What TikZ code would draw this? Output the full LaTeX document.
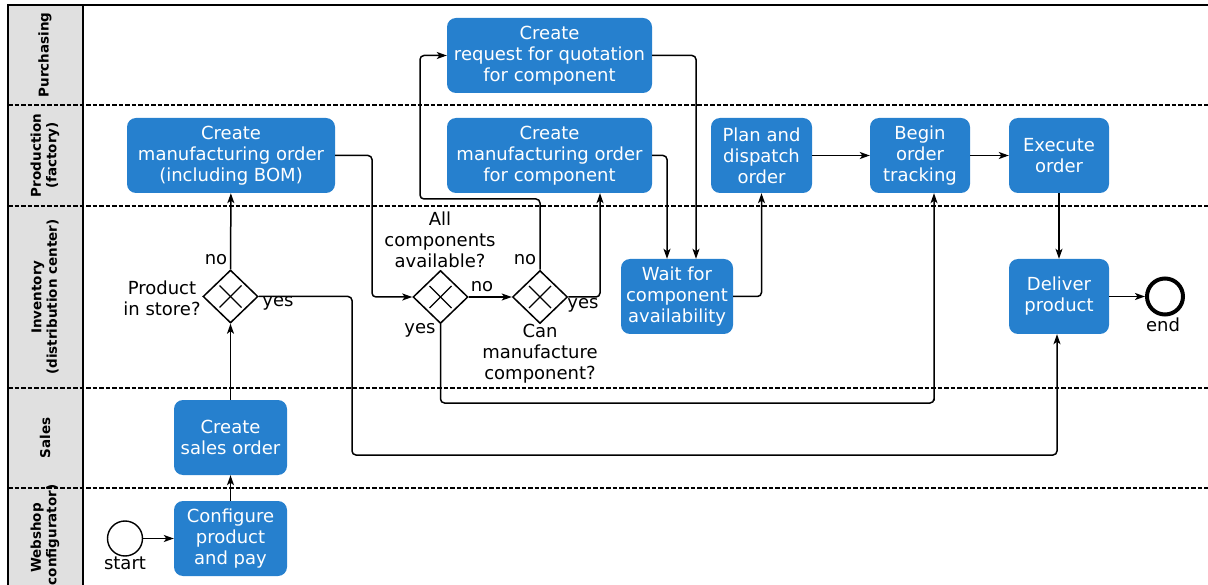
\documentclass[tikz,border=0pt]{standalone}
\usepackage{fontspec}
\setmainfont{DejaVu Sans}
\usetikzlibrary{shapes.geometric,arrows.meta,calc}
\definecolor{taskblue}{RGB}{38,128,206}
\definecolor{lanegray}{RGB}{224,224,224}
\newcommand{\tasksize}{\fontsize{18}{21}\selectfont}
\newcommand{\lanesize}{\fontsize{13.5}{15.5}\selectfont\bfseries}
\tikzset{
  task/.style={rectangle, rounded corners=9pt, fill=taskblue, text=white, align=center,
    inner sep=0pt, font=\tasksize, minimum height=75pt},
  gw/.style={diamond, draw, line width=1.5pt, minimum width=55pt, minimum height=53pt,
    inner sep=0pt, path picture={
      \draw[line width=1.3pt] ([shift={(-11pt,-11pt)}]path picture bounding box.center) -- ([shift={(11pt,11pt)}]path picture bounding box.center);
      \draw[line width=1.3pt] ([shift={(-11pt,11pt)}]path picture bounding box.center) -- ([shift={(11pt,-11pt)}]path picture bounding box.center);}},
  flow/.style={line width=1.5pt, rounded corners=4pt, -{Stealth[length=10pt,width=7pt,inset=2.5pt]}},
  lbl/.style={font=\tasksize, align=center, inner sep=0pt},
  lanelbl/.style={rotate=90, font=\lanesize, align=center, inner sep=0pt},
  sep/.style={line width=1.2pt, dash pattern=on 4.5pt off 2pt},
}
\begin{document}
\begin{tikzpicture}[x=1pt,y=-1pt]
\useasboundingbox (0,0) rectangle (1208,585);
\clip (0,0) rectangle (1208,585);
% lanes
\fill[lanegray] (8,5.5) rectangle (83,600);
\draw[sep] (8,105) -- (1210,105);
\draw[sep] (8,206) -- (1210,206);
\draw[sep] (8,388) -- (1210,388);
\draw[sep] (8,488) -- (1210,488);
\draw[line width=2pt] (8,600) -- (8,5.5) -- (1210,5.5);
\draw[line width=1.6pt] (83,5.5) -- (83,600);
\node[lanelbl] (lPur) at (45,55) {Purchasing};
\node[lanelbl] (lPro) at (45,155.5) {Production\\(factory)};
\node[lanelbl] (lInv) at (45,297) {Inventory\\(distribution center)};
\node[lanelbl] (lSal) at (45,438) {Sales};
\node[lanelbl] (lWeb) at (45,538) {Webshop\\(configurator)};
% tasks
\node[task, minimum width=208pt] (mo) at (231,155.5) {Create\\manufacturing order\\(including BOM)};
\node[task, minimum width=205pt] (quote) at (549.5,55.5) {Create\\request for quotation\\for component};
\node[task, minimum width=205pt] (moc) at (549.5,155.5) {Create\\manufacturing order\\for component};
\node[task, minimum width=101pt] (plan) at (761.5,155.5) {Plan and\\dispatch\\order};
\node[task, minimum width=100pt] (begin) at (920,155.5) {Begin\\order\\tracking};
\node[task, minimum width=100pt] (exec) at (1059,155.5) {Execute\\order};
\node[task, minimum width=112pt] (wait) at (677,296.5) {Wait for\\component\\availability};
\node[task, minimum width=100pt] (deliver) at (1059,296.5) {Deliver\\product};
\node[task, minimum width=113pt] (sales) at (230.5,437.5) {Create\\sales order};
\node[task, minimum width=113pt] (config) at (230.5,538.5) {Configure\\product\\and pay};
% gateways
\node[gw] (gwProd) at (230.5,296.5) {};
\node[gw] (gwAll) at (440.5,297) {};
\node[gw] (gwCan) at (540,297) {};
% events
\node[circle, draw, line width=1.4pt, minimum size=35pt, inner sep=0pt] (start) at (125,538.5) {};
\node[circle, draw, line width=4pt, minimum size=36pt, inner sep=0pt] (endev) at (1165,296.5) {};
% labels
\node[lbl] (tStart) at (125,563) {start};
\node[lbl] (tEnd) at (1163,325) {end};
\node[lbl] (tProd) at (162,298) {Product\\in store?};
\node[lbl] (tAll) at (440,240) {All\\components\\available?};
\node[lbl] (tCan) at (540,354) {Can\\manufacture\\component?};
\node[lbl] (n1) at (216,260) {no};
\node[lbl] (y1) at (278,303) {yes};
\node[lbl] (n2) at (482,287) {no};
\node[lbl] (y2) at (420,330) {yes};
\node[lbl] (n3) at (525,260) {no};
\node[lbl] (y3) at (583,305) {yes};
% flows
\draw[flow] (start) -- (config);
\draw[flow] (config) -- (sales);
\draw[flow] (sales) -- (gwProd);
\draw[flow] (gwProd) -- (mo);
\draw[flow] (gwProd.east) -| (352,455) -| ([xshift=-2pt]deliver.south);
\draw[flow] (mo.east) -| (372,297) -- (gwAll.west);
\draw[flow] (gwAll.east) -- (gwCan.west);
\draw[flow] (gwAll.south) |- (934,403) -| ([xshift=14pt]begin.south);
\draw[flow] (gwCan.north) |- (420,199) |- (quote.west);
\draw[flow] (gwCan.east) -| ([xshift=50.5pt]moc.south);
\draw[flow] (quote.east) -| ([xshift=19pt]wait.north);
\draw[flow] (moc.east) -| ([xshift=-10pt]wait.north);
\draw[flow] (wait.east) -| (plan.south);
\draw[flow] (plan) -- (begin);
\draw[flow] (begin) -- (exec);
\draw[flow] (exec) -- (deliver);
\draw[flow] (deliver) -- (endev);
\end{tikzpicture}
\end{document}
